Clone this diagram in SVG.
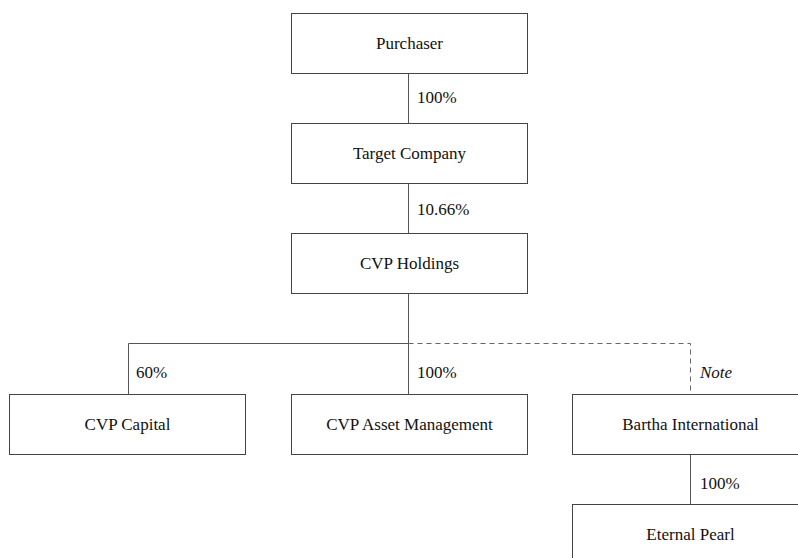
<svg xmlns="http://www.w3.org/2000/svg" width="798" height="558" viewBox="0 0 798 558">
<style>
.box{fill:#fff;stroke:#444;stroke-width:1}
.t{font-family:"Liberation Serif","Times New Roman",serif;font-size:17px;fill:#111}
.c{text-anchor:middle}
.ln{stroke:#555;stroke-width:1;fill:none}
.dash{stroke:#666;stroke-width:1;fill:none;stroke-dasharray:5,4}
</style>
<rect width="798" height="558" fill="#fff"/>
<g id="connectors">
<line class="ln" x1="408.5" y1="73" x2="408.5" y2="123"/>
<line class="ln" x1="408.5" y1="183" x2="408.5" y2="233"/>
<line class="ln" x1="408.5" y1="293" x2="408.5" y2="394"/>
<polyline class="ln" points="128.5,394 128.5,343.5 408.5,343.5"/>
<polyline class="dash" points="408.5,343.5 690.5,343.5 690.5,394"/>
<line class="ln" x1="690.5" y1="454" x2="690.5" y2="504"/>
<text class="t" x="417" y="103">100%</text>
<text class="t" x="417" y="215">10.66%</text>
<text class="t" x="136" y="378">60%</text>
<text class="t" x="417" y="378">100%</text>
<text class="t" x="700" y="378" font-style="italic">Note</text>
<text class="t" x="700" y="489">100%</text>
</g>
<g id="purchaser"><rect class="box" x="291.5" y="13.5" width="236" height="60"/><text class="t c" x="409.5" y="49">Purchaser</text></g>
<g id="target"><rect class="box" x="291.5" y="123.5" width="236" height="60"/><text class="t c" x="409.5" y="159">Target Company</text></g>
<g id="cvpholdings"><rect class="box" x="291.5" y="233.5" width="236" height="60"/><text class="t c" x="409.5" y="269">CVP Holdings</text></g>
<g id="cvpcapital"><rect class="box" x="9.5" y="394.5" width="236" height="60"/><text class="t c" x="127.5" y="430">CVP Capital</text></g>
<g id="cvpam"><rect class="box" x="291.5" y="394.5" width="236" height="60"/><text class="t c" x="409.5" y="430">CVP Asset Management</text></g>
<g id="bartha"><rect class="box" x="572.5" y="394.5" width="236" height="60"/><text class="t c" x="690.5" y="430">Bartha International</text></g>
<g id="eternal"><rect class="box" x="572.5" y="504.5" width="236" height="60"/><text class="t c" x="690.5" y="540">Eternal Pearl</text></g>
</svg>
